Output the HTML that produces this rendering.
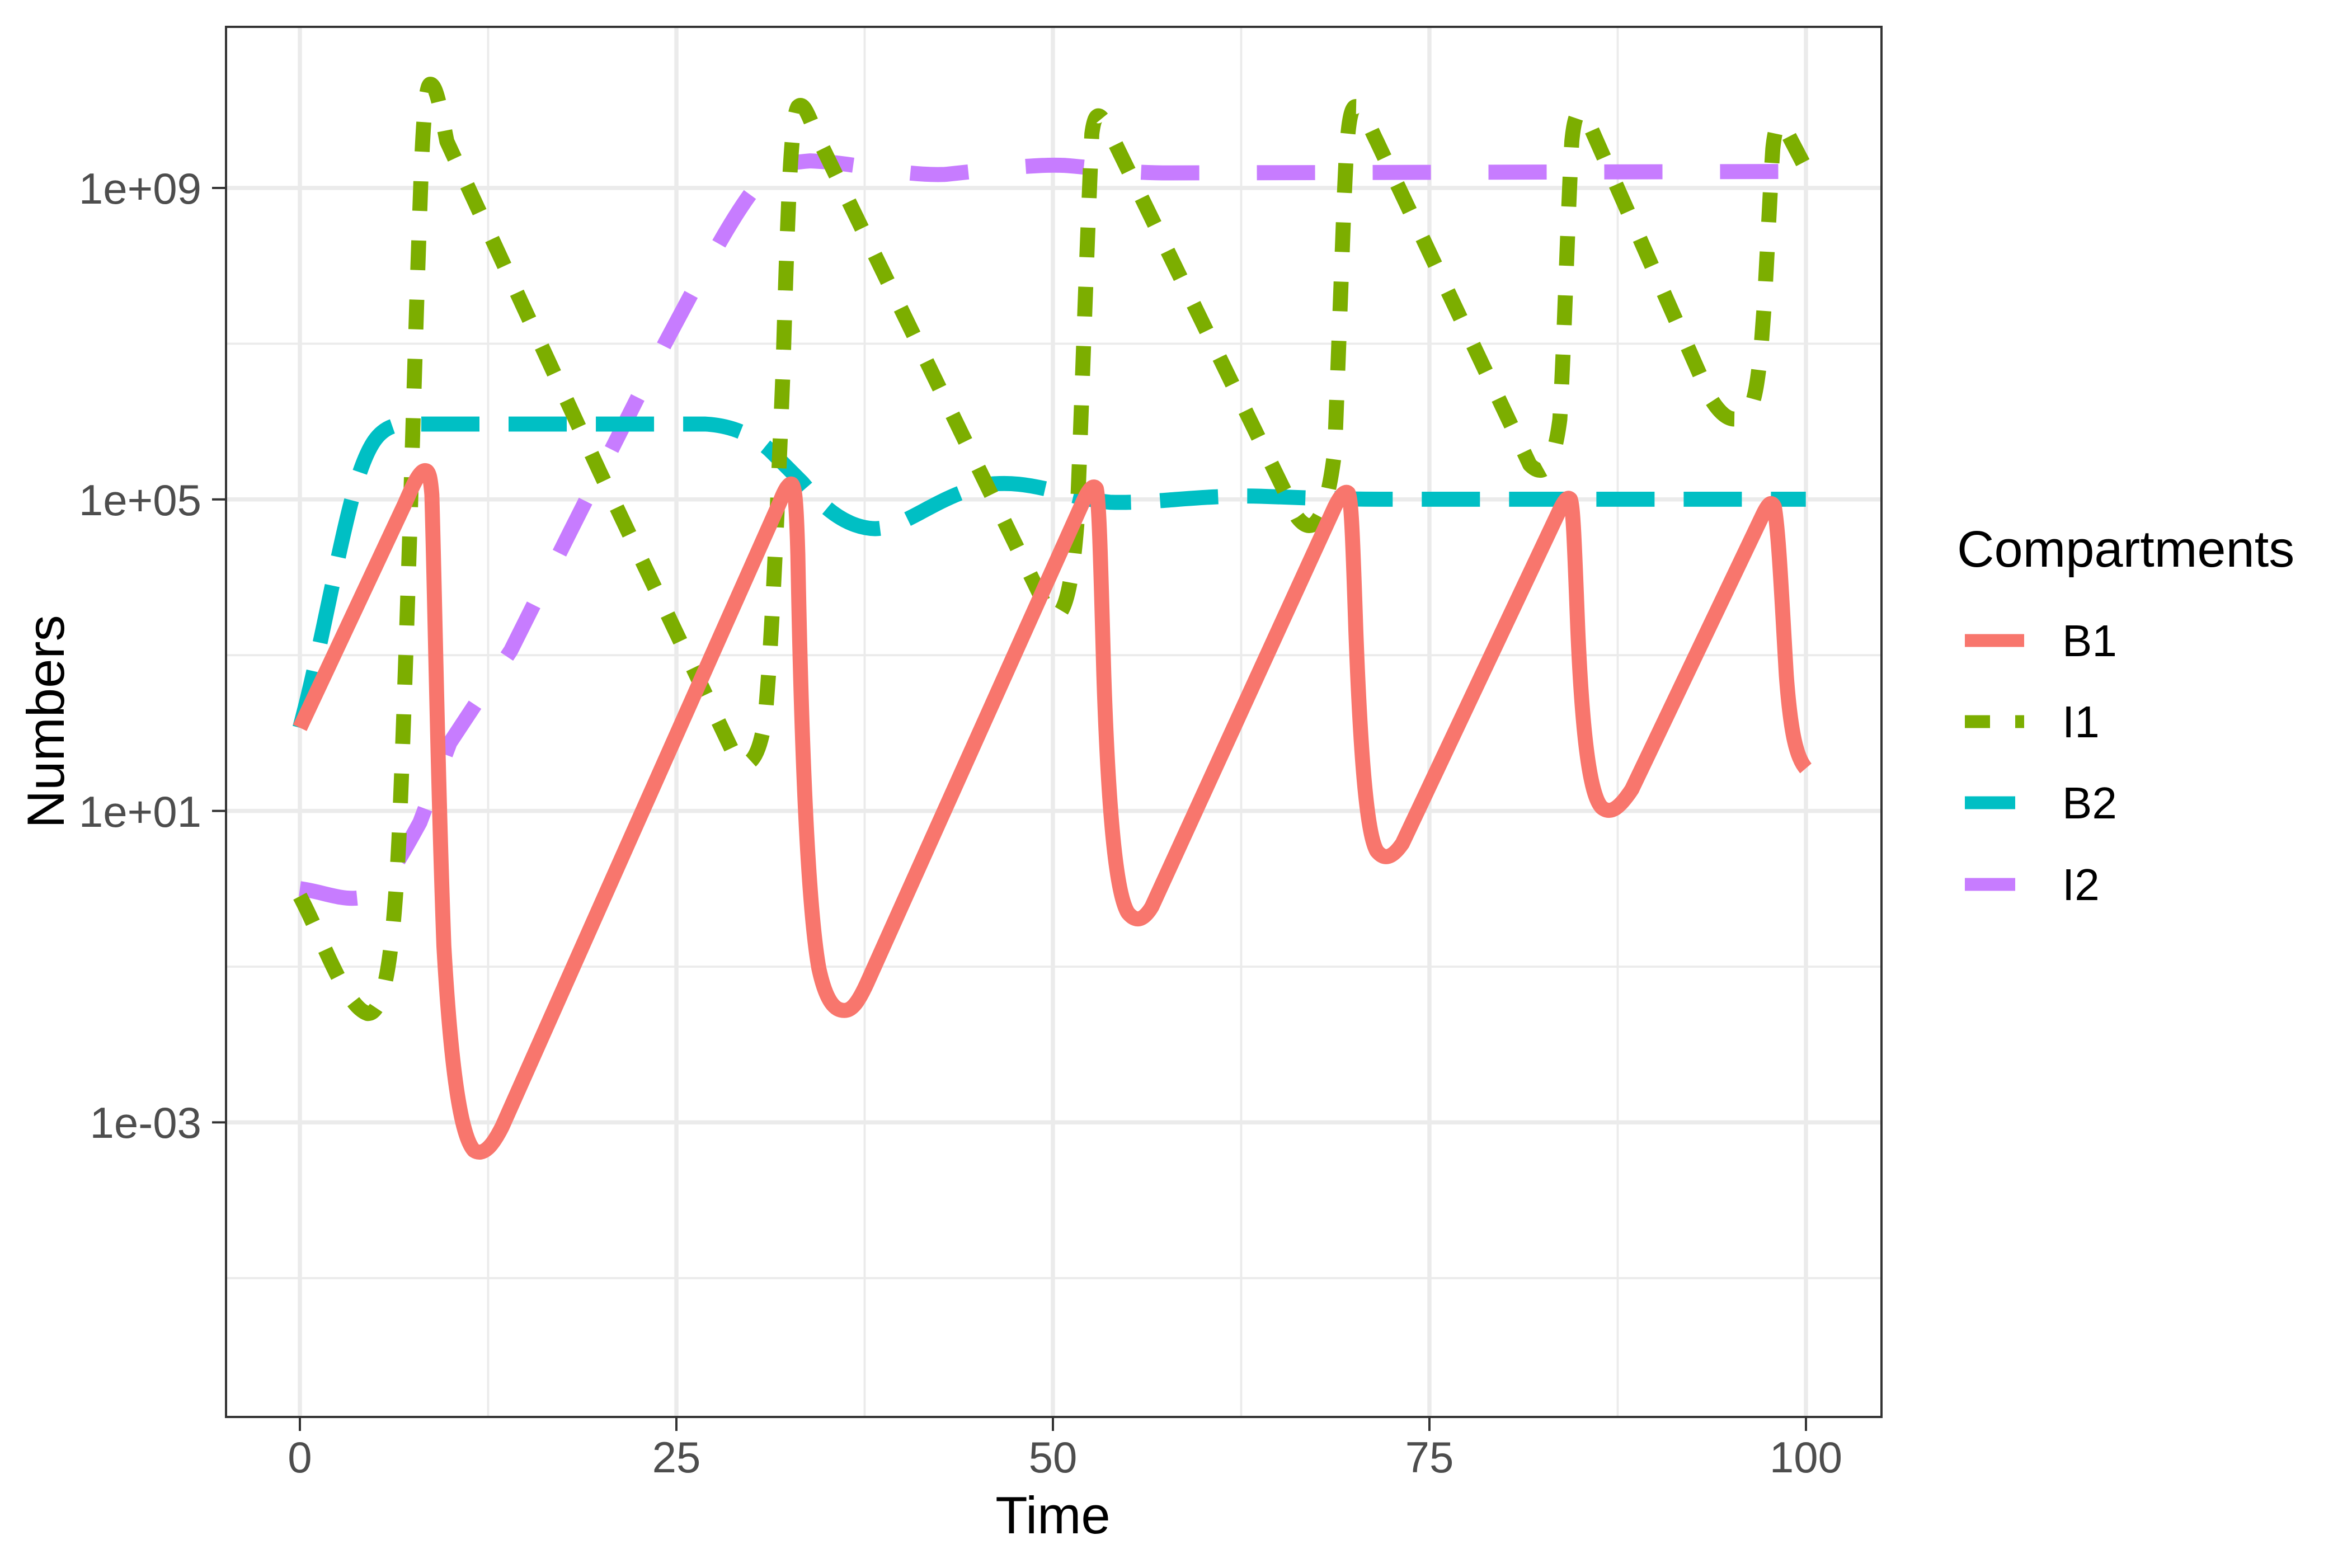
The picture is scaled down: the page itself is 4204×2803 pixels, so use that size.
<!DOCTYPE html>
<html><head><meta charset="utf-8"><style>
html,body{margin:0;padding:0;background:#fff;}
svg{display:block;font-family:"Liberation Sans",Arial,sans-serif;}
</style></head><body>
<svg width="4204" height="2803" viewBox="0 0 4204 2803" xmlns="http://www.w3.org/2000/svg">
<rect x="0" y="0" width="4204" height="2803" fill="#fff"/>
<g stroke="#EBEBEB" stroke-width="3.8" fill="none">
<line x1="404" x2="3363" y1="614.4" y2="614.4"/>
<line x1="404" x2="3363" y1="1171.2" y2="1171.2"/>
<line x1="404" x2="3363" y1="1728" y2="1728"/>
<line x1="404" x2="3363" y1="2284.8" y2="2284.8"/>
<line y1="48" y2="2533" x1="872.5" x2="872.5"/>
<line y1="48" y2="2533" x1="1545.5" x2="1545.5"/>
<line y1="48" y2="2533" x1="2218.5" x2="2218.5"/>
<line y1="48" y2="2533" x1="2891.5" x2="2891.5"/>
</g>
<g stroke="#EBEBEB" stroke-width="7.5" fill="none">
<line x1="404" x2="3363" y1="336" y2="336"/>
<line x1="404" x2="3363" y1="892.8" y2="892.8"/>
<line x1="404" x2="3363" y1="1449.6" y2="1449.6"/>
<line x1="404" x2="3363" y1="2006.4" y2="2006.4"/>
<line y1="48" y2="2533" x1="536" x2="536"/>
<line y1="48" y2="2533" x1="1209" x2="1209"/>
<line y1="48" y2="2533" x1="1882" x2="1882"/>
<line y1="48" y2="2533" x1="2555" x2="2555"/>
<line y1="48" y2="2533" x1="3228" x2="3228"/>
</g>
<g transform="matrix(2.681 0 0 2.688 -0.2 -2.69)" fill="none" stroke-width="10" stroke-linejoin="round">
<path stroke="#C77CFF" stroke-dasharray="38.8 38.4" d="M200,592 C215,594 228,600 240,598 C255,594 265,575 280,548 L300,495 L340.6,433.7 L380,355 L443.6,229 C470,180 490,140 510,118 C520,110 528,109 540,108 C570,109 600,118 630,117 C660,114 690,110 710,111 C735,113 750,116 780,116 L1204,115"/>
<path stroke="#00BFC4" stroke-dasharray="38.8 19.4" d="M200,485 C215,430 228,350 240,315 C248,292 255,284 270,283 L470,283 C490,284 505,292 515,302 L535,322 C550,340 565,352 583.5,352.6 C605,352 625,330 660,323 C690,320 710,332 740,335 C770,336 800,330 840,331 C870,332 890,333 920,333 L1204,333"/>
<path stroke="#7CAE00" stroke-dasharray="19.7 19.7" d="M200,597 C215,625 230,670 245,675 C256,676 262,640 266,560 C272,420 276,250 280,140 C282,80 284,57 287,57 C291,57 294,75 298,95 L400,315 L492,508 C500,512 506,505 510,480 C514,440 518,350 522,250 C525,150 527,80 532,72 C536,68 539,78 545,92 L700,410 C708,415 714,400 718,350 C721,280 724,180 728,90 C730,75 733,75 738,85 L865,345 C875,358 884,350 890,300 L896,140 C898,85 900,70 905,72 C910,76 913,85 918,95 L1020,310 C1030,320 1036,310 1040,280 C1043,230 1045,150 1048,95 C1050,75 1053,72 1058,80 L1140,265 C1150,282 1160,285 1168,270 C1176,250 1178,160 1182,100 C1184,80 1188,78 1192,90 L1204,113"/>
<path stroke="#F8766D" d="M200,485 L270,336 C276,322 280,314 283.5,314 C286,314 287,318 288,330 C290,400 292,520 296,630 C300,700 306,755 316,766 C322,770 328,764 335,750 L520,335 C523,327 526,322 528,323 C530,325 531,335 532,370 C534,480 538,600 546,645 C551,668 557,673 563,673 C568,673 572,668 578,655 L722,335 C726,326 729,323 731,326 C733,335 734,380 736,450 C739,540 744,595 752,608 C757,614 762,614 768,604 L890,338 C894,330 897,327 899,329 C901,333 902,360 904,420 C907,500 911,555 918,567 C923,573 928,572 935,562 L1040,340 C1043,334 1045,331 1047,333 C1049,337 1050,370 1052,420 C1055,490 1060,530 1068,538 C1074,543 1080,538 1088,526 L1176,342 C1179,336 1181,334 1183,338 C1186,355 1188,400 1191,450 C1194,490 1198,505 1204,512"/>
</g>
<rect x="404" y="48" width="2959" height="2485" fill="none" stroke="#333" stroke-width="4"/>
<g stroke="#333" stroke-width="4">
<line x1="379" x2="404" y1="336" y2="336"/>
<line x1="379" x2="404" y1="892.8" y2="892.8"/>
<line x1="379" x2="404" y1="1449.6" y2="1449.6"/>
<line x1="379" x2="404" y1="2006.4" y2="2006.4"/>
<line y1="2533" y2="2558" x1="536" x2="536"/>
<line y1="2533" y2="2558" x1="1209" x2="1209"/>
<line y1="2533" y2="2558" x1="1882" x2="1882"/>
<line y1="2533" y2="2558" x1="2555" x2="2555"/>
<line y1="2533" y2="2558" x1="3228" x2="3228"/>
</g>
<g fill="#4D4D4D" font-size="78" text-anchor="end">
<text x="360" y="364">1e+09</text>
<text x="360" y="921">1e+05</text>
<text x="360" y="1478">1e+01</text>
<text x="360" y="2034">1e-03</text>
</g>
<g fill="#4D4D4D" font-size="78" text-anchor="middle">
<text x="536" y="2632">0</text>
<text x="1209" y="2632">25</text>
<text x="1882" y="2632">50</text>
<text x="2555" y="2632">75</text>
<text x="3228" y="2632">100</text>
</g>
<text x="1882" y="2741" font-size="94" text-anchor="middle" fill="#000">Time</text>
<text transform="translate(114,1290) rotate(-90)" font-size="94" text-anchor="middle" fill="#000">Numbers</text>
<text x="3498" y="1013" font-size="92" fill="#000">Compartments</text>
<g stroke-width="23" fill="none">
<line x1="3512" x2="3618" y1="1145" y2="1145" stroke="#F8766D"/>
<line x1="3512" x2="3618" y1="1290" y2="1290" stroke="#7CAE00" stroke-dasharray="45 45"/>
<line x1="3512" x2="3618" y1="1435" y2="1435" stroke="#00BFC4" stroke-dasharray="90 90"/>
<line x1="3512" x2="3618" y1="1581" y2="1581" stroke="#C77CFF" stroke-dasharray="90 90"/>
</g>
<g font-size="80" fill="#000">
<text x="3686" y="1173">B1</text>
<text x="3686" y="1318">I1</text>
<text x="3686" y="1463">B2</text>
<text x="3686" y="1609">I2</text>
</g>
</svg>
</body></html>
